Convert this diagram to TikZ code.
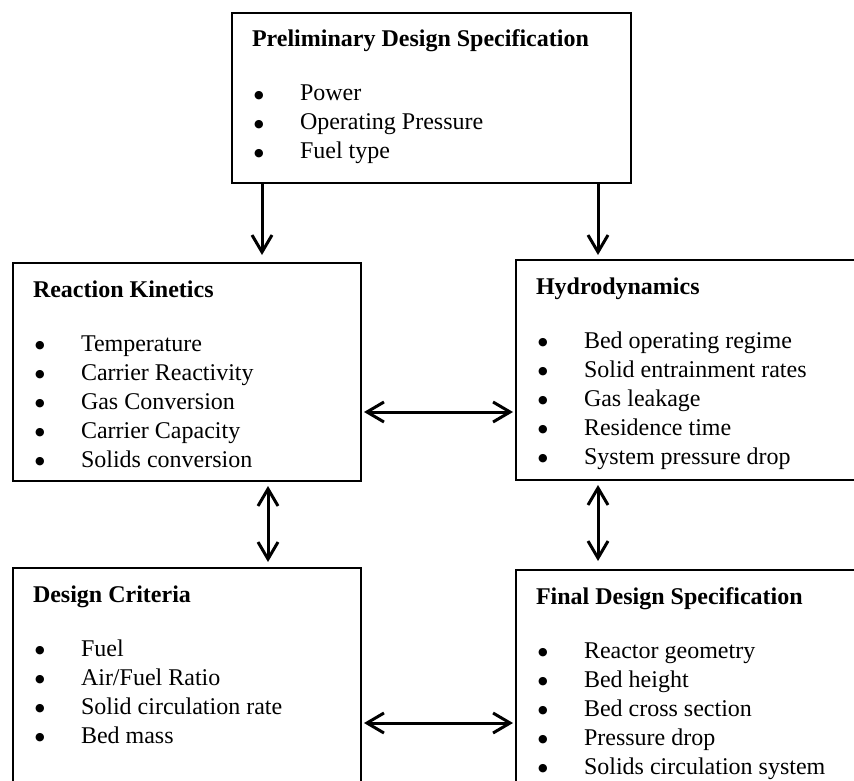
\documentclass[tikz,border=0pt]{standalone}
\usepackage{fontspec}
\setmainfont{Liberation Serif}
\newfontfamily\dotfont{DejaVu Sans}
\usetikzlibrary{arrows.meta}
\tikzset{
specbox/.style={
draw,
line width=1pt,
anchor=north west,
inner xsep=10pt,
inner ysep=0pt,
font=\fontsize{12pt}{14.5pt}\selectfont
},
link/.style={
-{Straight Barb[length=8.5pt,width=10pt]},
line width=1.5pt
},
duallink/.style={
{Straight Barb[length=8.5pt,width=10pt]}-{Straight Barb[length=8.5pt,width=10pt]},
line width=1.5pt
}
}
% width, height, title, items
\newcommand{\spec}[4]{%
\begin{minipage}[t][#2][t]{#1}
\rule{0pt}{17pt}\textbf{#3}\par\vspace{12.5pt}
#4
\end{minipage}}
\newcommand{\specitem}[1]{\hspace*{1pt}\makebox[23pt][l]{\raisebox{1.3pt}{\dotfont\fontsize{5.5pt}{5.5pt}\selectfont ●}}#1\par}

\begin{document}
\begin{tikzpicture}[x=0.5pt,y=-0.5pt]
\useasboundingbox (0,0) rectangle (854,780);

\node[specbox](prelim) at (231,12) {\spec{179.5pt}{85pt}{Preliminary Design Specification}{%
\specitem{Power}\specitem{Operating Pressure}\specitem{Fuel type}}};
\node[specbox](kinetics) at (12,262) {\spec{154pt}{109pt}{Reaction Kinetics}{%
\specitem{Temperature}\specitem{Carrier Reactivity}\specitem{Gas Conversion}%
\specitem{Carrier Capacity}\specitem{Solids conversion}}};
\node[specbox](hydro) at (515,259) {\spec{153.5pt}{110pt}{Hydrodynamics}{%
\specitem{Bed operating regime}\specitem{Solid entrainment rates}\specitem{Gas leakage}%
\specitem{Residence time}\specitem{System pressure drop}}};
\node[specbox](criteria) at (12,567) {\spec{154pt}{130pt}{Design Criteria}{%
\specitem{Fuel}\specitem{Air/Fuel Ratio}\specitem{Solid circulation rate}\specitem{Bed mass}}};
\node[specbox](final) at (515,569) {\spec{153.5pt}{130pt}{Final Design Specification}{%
\specitem{Reactor geometry}\specitem{Bed height}\specitem{Bed cross section}%
\specitem{Pressure drop}\specitem{Solids circulation system}}};

% connector lines
\coordinate (tl) at (262,0);
\coordinate (tr) at (598,0);
\coordinate (vl) at (268,0);
\coordinate (hm) at (0,412);
\coordinate (hb) at (0,723);

\draw[link,shorten >=3.5pt](tl |- prelim.south)--(tl |- kinetics.north);
\draw[link,shorten >=2pt](tr |- prelim.south)--(tr |- hydro.north);
\draw[duallink,shorten <=2pt,shorten >=2.5pt](vl |- kinetics.south)--(vl |- criteria.north);
\draw[duallink,shorten <=2pt,shorten >=4pt](tr |- hydro.south)--(tr |- final.north);
\draw[duallink,shorten <=1pt,shorten >=1pt](hm -| kinetics.east)--(hm -| hydro.west);
\draw[duallink,shorten <=1pt,shorten >=1pt](hb -| criteria.east)--(hb -| final.west);

\end{tikzpicture}
\end{document}
